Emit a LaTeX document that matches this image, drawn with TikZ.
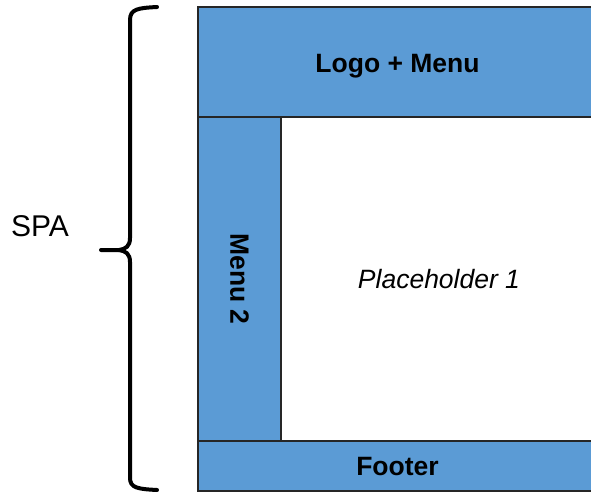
\documentclass[tikz,border=0pt]{standalone}
\usepackage{fontspec}
\setmainfont{Liberation Sans}
\definecolor{panelblue}{HTML}{5B9BD5}
\begin{document}
\begin{tikzpicture}[x=1pt,y=-1pt,
  panel/.style={draw=black!85, line width=1.2pt, fill=panelblue, rectangle, inner sep=0pt, font=\fontsize{26.5}{30}\selectfont\bfseries},
  content/.style={draw=black!85, line width=1.2pt, fill=white, rectangle, inner sep=0pt, font=\fontsize{26.5}{30}\selectfont\itshape},
  boldtext/.style={inner sep=0pt, font=\fontsize{26.5}{30}\selectfont\bfseries},
  bracestyle/.style={line width=4pt, line cap=round, line join=round}]
\useasboundingbox (0,0) rectangle (591,493);
\clip (0,0) rectangle (591,493);
\node[panel, minimum width=399pt, minimum height=110pt] (header) at (397.5,62) {};
\node[boldtext, anchor=base] (headertext) at (397.5,72) {Logo + Menu};
\node[content, minimum width=316pt, minimum height=324pt] (main) at (439,279) {Placeholder 1};
\node[panel, minimum width=83pt, minimum height=324pt] (menu2) at (239.5,279) {};
\node[boldtext, rotate=-90] (menu2text) at (menu2.center) {Menu 2};
\node[panel, minimum width=399pt, minimum height=50pt] (footer) at (397.5,466) {};
\node[boldtext, anchor=base] (footertext) at (397.5,475) {Footer};
\node[font=\fontsize{30}{34}\selectfont] (spa) at (40,226) {SPA};
\coordinate (btop) at (157,7);
\coordinate (btip) at (101,250);
\coordinate (bbot) at (157,490);
\draw[bracestyle] (btop) .. controls (138,8) and (130,9) .. (130,20) -- (130,238)
  .. controls (130,246) and (126,249) .. (119,250) -- (btip);
\draw[bracestyle] (119,250) .. controls (126,251) and (130,254) .. (130,262) -- (130,478)
  .. controls (130,488) and (138,489) .. (bbot);
\end{tikzpicture}
\end{document}
